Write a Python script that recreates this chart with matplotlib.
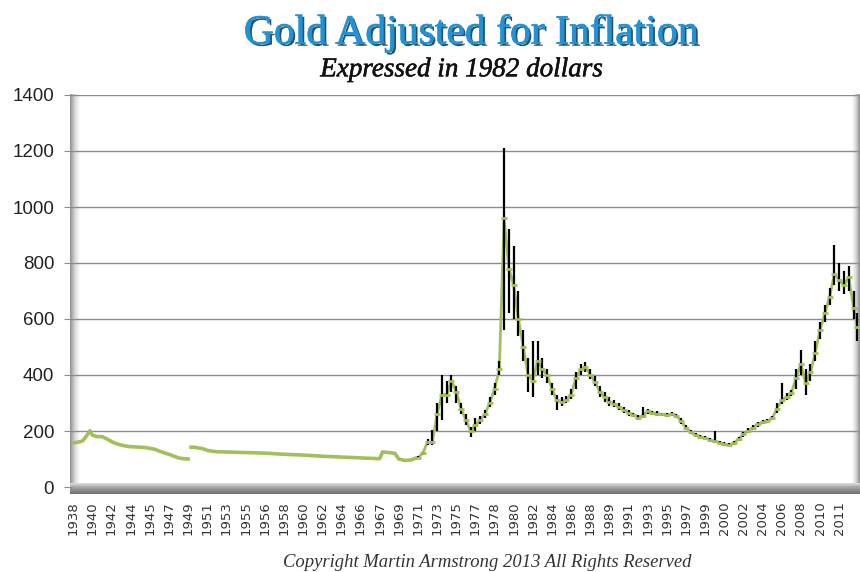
import numpy as np
import matplotlib
matplotlib.use("Agg")
import matplotlib.pyplot as plt
import matplotlib.patheffects as pe
from matplotlib.colors import LinearSegmentedColormap

# --- data: x is the position along the category axis (one unit per tick label) ---
year_labels = ["1938", "1940", "1942", "1944", "1945", "1947", "1949", "1951", "1953",
               "1955", "1956", "1958", "1960", "1962", "1964", "1966", "1967", "1969",
               "1971", "1973", "1975", "1977", "1978", "1980", "1982", "1984", "1986",
               "1988", "1989", "1991", "1993", "1995", "1997", "1999", "2000", "2002",
               "2004", "2006", "2008", "2010", "2011"]

# 1938 - 1949 (fixed price era, closes only)
pre_war_t = [0, 0.25, 0.5, 0.75, 0.87, 1.0, 1.25, 1.5, 1.75, 2.0, 2.25, 2.5, 2.75, 3.0,
             3.25, 3.5, 3.75, 4.0, 4.25, 4.5, 4.75, 5.0, 5.25, 5.5, 5.75, 6.0]
pre_war_close = [158, 160, 165, 188, 201, 185, 180, 180, 172, 162, 155, 150, 146, 144,
                 143, 142, 141, 138, 135, 128, 122, 117, 110, 104, 101, 100]

# 1950 - 1971
bretton_t = [6.15, 6.3, 6.5, 6.75, 7.0, 7.25, 7.5, 8.0, 9.0, 10.0, 11.0, 12.0, 13.0,
             14.0, 15.0, 16.0, 16.15, 16.5, 16.8, 17.0, 17.3, 17.6, 17.85]
bretton_close = [142, 142, 140, 137, 131, 128, 126, 125, 123, 121, 117, 114, 110,
                 107, 104, 101, 125, 123, 120, 100, 95, 96, 102]

# 1971 onwards: close, high, low
float_t = [18.0, 18.25, 18.5, 18.75, 19.0, 19.25, 19.5, 19.75, 20.0, 20.25, 20.5, 20.75,
           21.0, 21.25, 21.5, 21.75, 22.0, 22.25, 22.5, 22.75, 23.0, 23.25, 23.5, 23.75,
           24.0, 24.25, 24.5, 24.75, 25.0, 25.25, 25.5, 25.75, 26.0, 26.25, 26.5, 26.75,
           27.0, 27.25, 27.5, 27.75, 28.0, 28.25, 28.5, 28.75, 29.0, 29.25, 29.5, 29.75,
           30.0, 30.25, 30.5, 30.75, 31.0, 31.25, 31.5, 31.75, 32.0, 32.25, 32.5, 32.75,
           33.0, 33.25, 33.5, 33.75, 34.0, 34.25, 34.5, 34.75, 35.0, 35.25, 35.5, 35.75,
           36.0, 36.25, 36.5, 36.75, 37.0, 37.25, 37.5, 37.75, 38.0, 38.25, 38.5, 38.75,
           39.0, 39.25, 39.5, 39.75, 40.0, 40.25, 40.5, 40.75, 40.95]
float_close = [105, 120, 160, 160, 260, 330, 330, 380, 340, 280, 240, 200,
               220, 240, 260, 300, 350, 420, 960, 780, 720, 600, 500, 400,
               380, 450, 420, 400, 350, 310, 305, 310, 330, 390, 420, 430,
               400, 375, 340, 320, 305, 295, 285, 275, 265, 258, 248, 255,
               270, 265, 262, 260, 257, 262, 255, 235, 212, 195, 185, 180,
               175, 168, 163, 158, 153, 150, 157, 172, 188, 200, 212, 225,
               232, 235, 245, 280, 310, 322, 335, 390, 440, 370, 410, 480,
               560, 620, 680, 760, 740, 720, 750, 640, 570]
float_high = [110, 125, 170, 205, 300, 400, 380, 400, 360, 300, 260, 215,
              245, 255, 275, 320, 370, 450, 1210, 920, 860, 700, 560, 460,
              520, 520, 460, 420, 370, 330, 320, 325, 350, 410, 440, 445,
              420, 395, 360, 340, 320, 310, 300, 285, 275, 265, 258, 285,
              280, 272, 270, 266, 263, 268, 262, 245, 222, 205, 192, 186,
              182, 176, 200, 165, 160, 156, 163, 180, 195, 210, 222, 232,
              240, 242, 255, 300, 370, 335, 345, 420, 490, 420, 440, 520,
              590, 650, 710, 865, 800, 770, 790, 700, 620]
float_low = [100, 115, 150, 150, 200, 240, 300, 340, 300, 260, 220, 180,
             200, 225, 245, 285, 330, 400, 560, 620, 600, 540, 450, 340,
             320, 400, 390, 370, 330, 275, 290, 300, 315, 350, 400, 410,
             385, 360, 320, 305, 290, 285, 275, 265, 255, 250, 240, 245,
             260, 258, 255, 254, 250, 255, 248, 225, 205, 188, 178, 174,
             170, 162, 158, 152, 148, 145, 150, 165, 180, 192, 205, 215,
             224, 228, 238, 265, 295, 310, 325, 350, 400, 330, 380, 450,
             530, 590, 650, 720, 700, 690, 700, 600, 520]

y_ticks = [0, 200, 400, 600, 800, 1000, 1200, 1400]

GREEN = "#a2bf5c"
W, H = 860, 572

fig = plt.figure(figsize=(W / 100, H / 100), dpi=100)
fig.patch.set_facecolor("white")

# backdrop axes in pixel units for the 3-D wall and floor
deco = fig.add_axes([0, 0, 1, 1], zorder=0)
deco.set_xlim(0, W)
deco.set_ylim(H, 0)
deco.axis("off")

wall_cmap = LinearSegmentedColormap.from_list("wall", ["#8f8f8f", "#d9d9d9", "#ffffff"])
grad = np.linspace(0, 1, 64).reshape(1, -1)
deco.imshow(grad, cmap=wall_cmap, extent=(70, 80, 492, 94), aspect="auto")
deco.imshow(grad[:, ::-1], cmap=wall_cmap, extent=(852, 860, 492, 94), aspect="auto")
floor_cmap = LinearSegmentedColormap.from_list("floor", ["#dedede", "#9a9a9a", "#6e6e6e"])
deco.imshow(grad.T, cmap=floor_cmap, extent=(70, 860, 494, 483), aspect="auto")

# main chart
ax = fig.add_axes([72.3 / W, 1 - 487 / H, 787 / W, 392 / H], zorder=1)
ax.set_facecolor("none")
ax.set_xlim(-0.05, 41.05)
ax.set_ylim(0, 1400)
ax.set_axisbelow(True)
for s in ax.spines.values():
    s.set_visible(False)

ax.set_yticks(y_ticks)
ax.set_yticklabels([str(v) for v in y_ticks], fontsize=13.5, family="Liberation Sans")
ax.yaxis.grid(True, color="#8c8c8c", lw=1.0)
ax.tick_params(axis="y", length=6, color="#8c8c8c", pad=7, labelcolor="#222222")

ax.set_xticks(range(len(year_labels)))
ax.set_xticklabels(year_labels, rotation=90, fontsize=9.5, family="DejaVu Sans",
                   color="#333333")
ax.tick_params(axis="x", length=0, pad=10)

# closes as a green trace, high-low bars over it, close ticks on top
ax.plot(pre_war_t, pre_war_close, color=GREEN, lw=2.6, zorder=3)
ax.plot(bretton_t, bretton_close, color=GREEN, lw=2.6, zorder=3)
ax.plot([bretton_t[-1]] + float_t, [bretton_close[-1]] + float_close, color=GREEN,
        lw=2.0, zorder=3)
ax.vlines(float_t, float_low, float_high, color="black", lw=1.6, zorder=4)
ax.plot(float_t, float_close, ls="none", marker="_", ms=5, mew=2.0, color=GREEN,
        zorder=5)

# titles
fig.text(0.548, 0.942, "Gold Adjusted for Inflation", ha="center", va="center",
         fontsize=30, family="Liberation Serif", color="#1f93d6",
         path_effects=[pe.SimplePatchShadow(offset=(1.5, -1.5), shadow_rgbFace="#0b2f4a",
                                            alpha=0.85),
                       pe.withStroke(linewidth=0.5, foreground="#1f93d6")])
fig.text(0.537, 0.878, "Expressed in 1982 dollars", ha="center", va="center",
         fontsize=19.5, family="Liberation Serif", style="italic", color="#111111",
         path_effects=[pe.withStroke(linewidth=0.4, foreground="#111111")])
fig.text(0.566, 0.017, "Copyright Martin Armstrong 2013 All Rights Reserved",
         ha="center", va="center", fontsize=13.4, family="Liberation Serif",
         style="italic", color="#333333")

fig.savefig("out.png", dpi=100)
